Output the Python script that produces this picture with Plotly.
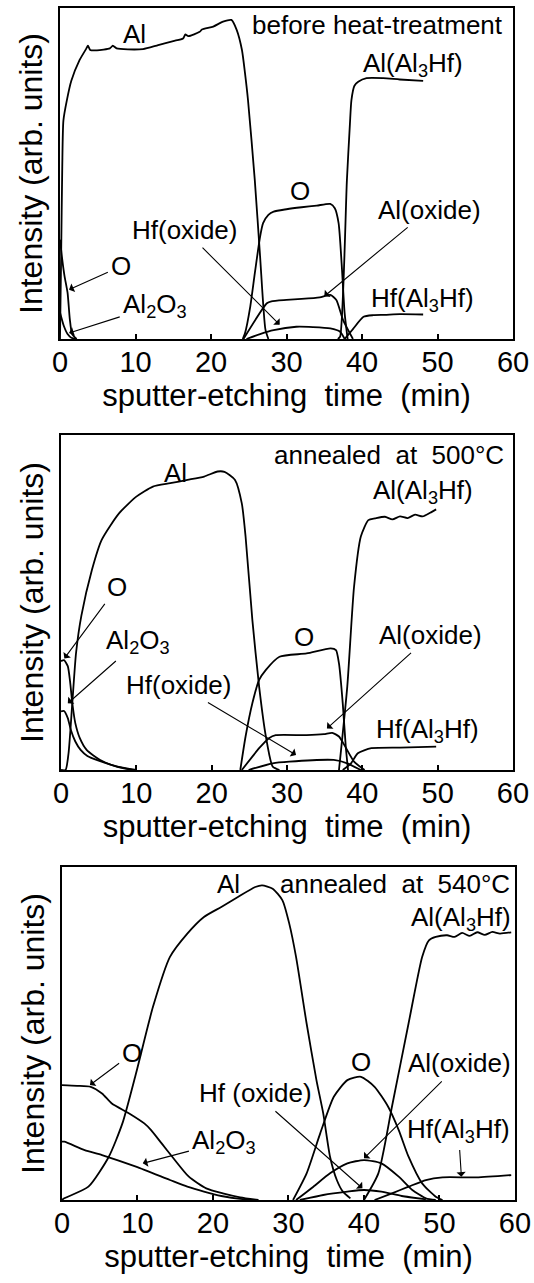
import plotly.graph_objects as go

# ---------------- data (x: sputter-etching time / min, y: intensity, arb. units 0-100) -------------
# Panel 1: before heat-treatment
p1_al_t = [0, 0.15, 0.3, 0.45, 0.9, 1.5, 2.6, 3.5, 3.7, 4.0, 4.9, 6.6, 7.0, 7.5, 9, 11, 13, 15, 16.3, 16.6, 17, 18.5, 18.8, 20.3, 21.6, 22.7, 23.4, 24.1, 24.5, 24.9, 25.8, 26.5, 27.2, 27.6]
p1_al_v = [0, 25, 52, 66, 72, 78, 84.3, 87.8, 88.6, 87.3, 87.2, 87.8, 88.6, 87.8, 87.5, 87.6, 88.8, 90, 90.8, 92, 91.5, 92.8, 93.5, 94.4, 95.9, 96.4, 93.4, 87.3, 80.4, 72.2, 48, 25, 3, 0]
p1_os_t = [0, 0.3, 0.6, 1.0, 1.3, 1.6, 2.2]
p1_os_v = [30, 24, 19, 14, 6, 1.5, 0]
p1_ao_t = [0, 0.5, 1.0, 1.5, 2.2]
p1_ao_v = [8, 4, 1.5, 0.4, 0]
p1_om_t = [24.2, 24.5, 25.2, 25.8, 26.5, 26.9, 27.6, 28.3, 30, 32, 34, 35.8, 36.4, 36.9, 37.3, 37.7, 38.1]
p1_om_v = [0, 1.7, 9.8, 19.8, 30.9, 35, 37.5, 38.5, 39.2, 39.8, 40.3, 40.8, 39.5, 35, 22.9, 7.8, 0]
p1_alox_t = [24.3, 27.4, 28, 30, 32, 34.4, 35.8, 36.6, 37.5, 38.8]
p1_alox_v = [0, 10.8, 11.4, 11.8, 12.1, 12.6, 13.3, 11.8, 5.7, 0]
p1_hfox_t = [24.7, 26.5, 28.3, 31.3, 33.5, 35.8, 37.1, 37.7]
p1_hfox_v = [0, 1.5, 2.7, 3.7, 3.6, 3.2, 2.2, 0]
p1_alah_t = [36.8, 37.1, 38.0, 38.4, 38.6, 39.0, 39.5, 40.6, 42.8, 45, 48.1]
p1_alah_v = [0, 0.7, 48, 65, 72.2, 76.5, 77.7, 78.8, 78.8, 78.4, 78.0]
p1_hfah_t = [37.7, 38.8, 40.2, 41.5, 43, 45, 48.1]
p1_hfah_v = [0, 3, 6.7, 7.2, 7.3, 7.5, 7.4]

# Panel 2: annealed at 500 C
p2_al_t = [0, 0.6, 1.0, 1.5, 2.0, 2.7, 4.1, 5.4, 7.7, 10, 12.2, 14.5, 16.8, 19, 20.8, 21.7, 23.1, 24, 24.5, 25.4, 26.3, 27.2, 28.1, 29]
p2_al_v = [0, 0, 5, 20, 35, 46, 59.7, 68.7, 76.6, 81.6, 84.6, 85.6, 86.6, 87.6, 89.1, 89.0, 86.6, 79.6, 69.7, 44.8, 24.9, 9.95, 1, 0]
p2_os_t = [0, 0.4, 0.9, 1.2, 1.5, 1.9, 2.5, 3.4, 5.2, 7.4, 9.5]
p2_os_v = [32.5, 32.8, 31, 26.5, 20, 14, 9.5, 6, 3, 1, 0]
p2_ao_t = [0, 0.4, 0.9, 1.3, 1.9, 2.6, 3.5, 5, 7.5, 10]
p2_ao_v = [17.5, 17.6, 15.5, 12, 8.5, 6, 4.2, 2.8, 1, 0]
p2_om_t = [23.8, 24.5, 25.4, 26.3, 27.2, 29, 32.6, 35.8, 36.5, 36.9, 37.4, 37.8, 38.1]
p2_om_v = [0, 10, 19.9, 26.9, 29.9, 33.8, 34.8, 36.3, 35.8, 31.8, 19.9, 7, 0]
p2_alox_t = [24, 25.4, 26.3, 27.6, 28.5, 32.6, 34.9, 36, 36.9, 37.6, 38.9, 40.3]
p2_alox_v = [0, 4, 6.5, 9.5, 10.4, 10.4, 10.7, 11.1, 10, 7.5, 2.5, 0]
p2_hfox_t = [24.9, 28.1, 30.3, 36.2, 38, 39.8]
p2_hfox_v = [0, 2, 2.5, 3, 2, 0]
p2_alah_t = [36.9, 38, 38.9, 39.8, 40.8, 41.7, 43, 44, 45, 46, 47, 48, 49, 49.8]
p2_alah_v = [0, 24.9, 54.7, 69.7, 74.6, 75.1, 75.6, 74.8, 75.7, 75.2, 76.2, 75.7, 76.8, 77.8]
p2_hfah_t = [37.4, 38.5, 39.4, 41.2, 45, 49.8]
p2_hfah_v = [0, 2, 5, 6.5, 6.7, 7]

# Panel 3: annealed at 540 C
p3_al_t = [0, 0.3, 3.5, 6.2, 8, 9.8, 12.05, 14.3, 16.6, 18.8, 21.1, 23.3, 25.6, 26.5, 27.9, 29.2, 30.1, 31, 32.4, 33.7, 34.6, 35.5, 36.4, 37.2, 38.2]
p3_al_v = [0, 0.5, 4, 13, 23, 38, 58, 73, 80, 85, 88, 91, 94, 94.5, 93.5, 90, 83, 73, 53, 36, 26, 13, 6, 2.5, 0.5]
p3_os_t = [0, 2, 3.8, 5.3, 6.6, 8.9, 10.9, 11.8, 13.2, 14.6, 16.8, 19.1, 21.3, 23.6, 26]
p3_os_v = [34.5, 34.3, 34, 32, 29, 26, 23, 21, 17, 13, 7, 3.5, 2, 0.8, 0]
p3_ao_t = [0, 0.3, 3, 5.3, 9.8, 14.3, 16.6, 18.8, 21.1, 24.2, 26]
p3_ao_v = [17.5, 17.5, 15, 13.5, 10, 6, 4, 2.5, 1.2, 0.2, 0]
p3_om_t = [30.6, 32.4, 34.2, 36, 37.8, 39.6, 41.4, 43.2, 44.6, 45.9, 47.7, 49.5, 50.4]
p3_om_v = [0, 8, 20, 31, 36, 37, 34, 28, 21, 13, 5, 1, 0]
p3_alox_t = [31, 33.3, 35.5, 37.8, 40, 42.3, 44.6, 46.4, 48.2, 49.5]
p3_alox_v = [0, 4, 8, 11, 12, 11, 7, 3, 0.5, 0]
p3_hfox_t = [31.5, 34.6, 37.8, 40, 42.3, 45, 48.2]
p3_hfox_v = [0, 1.5, 2.5, 3, 2.5, 1.2, 0.2]
p3_alah_t = [40, 41.9, 43.7, 45.9, 47.7, 48.6, 49.5, 51, 52, 53, 54, 55, 56, 57, 58, 59.5]
p3_alah_v = [0, 8, 28, 53, 73, 78, 79, 79.5, 79.0, 80.2, 79.3, 80.4, 79.6, 80.5, 80, 80.4]
p3_hfah_t = [41.4, 43.7, 45.9, 48.2, 50.4, 54.9, 59.5]
p3_hfah_v = [0, 2, 4, 6, 6.8, 6.8, 7.5]

x_ticks = [0, 10, 20, 30, 40, 50, 60]
x_title = "sputter-etching  time  (min)"
y_title = "Intensity (arb. units)"
panel_titles = ["before heat-treatment", "annealed  at  500°C", "annealed  at  540°C"]

AL2O3 = "Al<sub>2</sub>O<sub>3</sub>"
ALAH = "Al(Al<sub>3</sub>Hf)"
HFAH = "Hf(Al<sub>3</sub>Hf)"

# (text, text_x, text_y, arrow_head_x, arrow_head_y) ; head None => plain label
p1_labels = [
    ("Al", 9.9, 92.2, None, None),
    (panel_titles[0], 42.0, 95.0, None, None),
    (ALAH, 46.7, 82.9, None, None),
    ("O", 8.1, 22.0, 1.2, 14.9),
    (AL2O3, 12.6, 10.1, 1.2, 1.8),
    ("O", 31.8, 44.6, None, None),
    ("Hf(oxide)", 16.5, 33.0, 29.1, 4.3),
    ("Al(oxide)", 48.9, 39.1, 35.0, 12.9),
    (HFAH, 48.0, 11.9, None, None),
]
p2_labels = [
    ("Al", 15.2, 88.6, None, None),
    (panel_titles[1], 43.5, 94.0, None, None),
    (ALAH, 48.0, 83.1, None, None),
    ("O", 7.5, 54.7, 0.45, 33.3),
    (AL2O3, 10.2, 38.3, 0.9, 19.9),
    ("O", 32.2, 39.8, None, None),
    ("Hf(oxide)", 15.6, 25.4, 31.2, 4.5),
    ("Al(oxide)", 49.1, 40.3, 35.3, 12.4),
    (HFAH, 48.7, 11.9, None, None),
]
p3_labels = [
    ("Al", 22.0, 95.0, None, None),
    (panel_titles[2], 44.1, 95.0, None, None),
    (ALAH, 52.9, 84.5, None, None),
    ("O", 9.3, 44.0, 3.7, 34.5),
    (AL2O3, 21.5, 17.5, 10.7, 11.0),
    ("O", 39.6, 41.5, None, None),
    ("Hf (oxide)", 25.6, 32.0, 39.8, 3.5),
    ("Al(oxide)", 52.7, 41.0, 40.0, 12.5),
    (HFAH, 52.5, 21.0, 52.9, 7.0),
]

panels = [
    [(p1_al_t, p1_al_v), (p1_os_t, p1_os_v), (p1_ao_t, p1_ao_v), (p1_om_t, p1_om_v),
     (p1_alox_t, p1_alox_v), (p1_hfox_t, p1_hfox_v), (p1_alah_t, p1_alah_v), (p1_hfah_t, p1_hfah_v)],
    [(p2_al_t, p2_al_v), (p2_os_t, p2_os_v), (p2_ao_t, p2_ao_v), (p2_om_t, p2_om_v),
     (p2_alox_t, p2_alox_v), (p2_hfox_t, p2_hfox_v), (p2_alah_t, p2_alah_v), (p2_hfah_t, p2_hfah_v)],
    [(p3_al_t, p3_al_v), (p3_os_t, p3_os_v), (p3_ao_t, p3_ao_v), (p3_om_t, p3_om_v),
     (p3_alox_t, p3_alox_v), (p3_hfox_t, p3_hfox_v), (p3_alah_t, p3_alah_v), (p3_hfah_t, p3_hfah_v)],
]
series_names = ["Al", "O (surface)", "Al2O3", "O", "Al(oxide)", "Hf(oxide)", "Al(Al3Hf)", "Hf(Al3Hf)"]
labels = [p1_labels, p2_labels, p3_labels]

# ---------------- layout ----------------
W, H = 534, 1283
ML, MR, MT, MB = 58, 18, 8, 83
x_domains = [[0.00437, 0.99345], [0.00655, 0.99345], [0.00873, 0.99782]]
y_domains = [[0.72232, 1.0], [0.36074, 0.64178], [0.0, 0.27936]]

FONT = "Liberation Sans, Arial, Helvetica, sans-serif"
fig = go.Figure()

for i, (series, labs) in enumerate(zip(panels, labels)):
    n = "" if i == 0 else str(i + 1)
    for name, (t, v) in zip(series_names, series):
        fig.add_trace(go.Scatter(
            x=t, y=v, mode="lines", name=name, showlegend=False,
            line=dict(color="black", width=1.8, shape="spline", smoothing=0.6),
            xaxis="x" + n, yaxis="y" + n, hoverinfo="skip"))
    for (txt, tx, ty, hx, hy) in labs:
        a = dict(text=txt, xref="x" + n, yref="y" + n, showarrow=False,
                 font=dict(family=FONT, size=26, color="black"))
        if hx is None:
            a.update(x=tx, y=ty, xanchor="center", yanchor="middle")
        else:
            a.update(x=hx, y=hy, ax=tx, ay=ty, axref="x" + n, ayref="y" + n,
                     showarrow=True, arrowhead=1, arrowsize=1.4, arrowwidth=1.1,
                     arrowcolor="black", standoff=0, startstandoff=2)
        fig.add_annotation(**a)

    fig.update_layout(**{
        "xaxis" + n: dict(
            domain=x_domains[i], range=[0, 60], tickvals=x_ticks, ticks="inside",
            ticklen=5, tickwidth=1.5, tickcolor="black", showline=True, linewidth=2,
            linecolor="black", mirror=True, showgrid=False, zeroline=False,
            anchor="y" + n, ticklabelstandoff=-4, automargin=False,
            tickfont=dict(family=FONT, size=29, color="black"),
            title=dict(text=x_title, font=dict(family=FONT, size=31, color="black"), standoff=2)),
        "yaxis" + n: dict(
            domain=y_domains[i], range=[0, 100], showticklabels=False, ticks="",
            showline=True, linewidth=2, linecolor="black", mirror=True, showgrid=False,
            zeroline=False, anchor="x" + n, automargin=False,
            title=dict(text=y_title, font=dict(family=FONT, size=32, color="black"), standoff=6)),
    })

fig.update_layout(width=W, height=H, margin=dict(l=ML, r=MR, t=MT, b=MB, autoexpand=False),
                  paper_bgcolor="white", plot_bgcolor="white", showlegend=False)

fig.write_html("out.html", config={"displayModeBar": False},
               post_script="document.body.style.margin='0';document.body.style.overflow='hidden';")
